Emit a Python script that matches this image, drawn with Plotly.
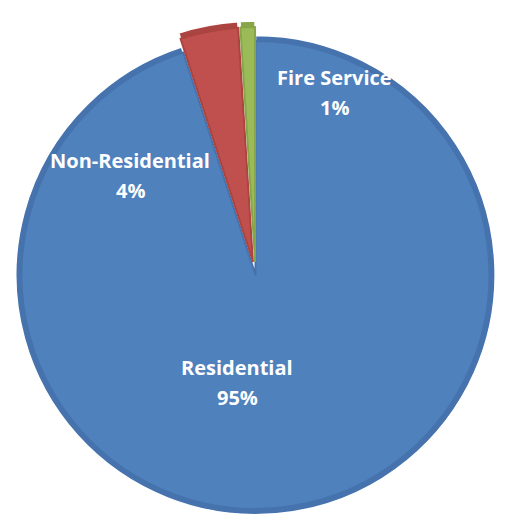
import plotly.graph_objects as go

# Water use share by customer class
categories = ["Residential", "Non-Residential", "Fire Service"]
shares = [95, 4, 1]

base_colors = ["#4F81BD", "#C0504D", "#9BBB59"]
rim_colors = ["#4673AD", "#AB4441", "#88A649"]
pulls = [0, 0.06, 0.06]

W, H = 511, 529
cy = 275  # pie centre, px from top
dom_y = [0, 2 * (H - cy) / H]  # keeps the centre at cy

fig = go.Figure()

# darker rim underneath
fig.add_trace(go.Pie(
    labels=categories, values=shares, sort=False, direction="clockwise",
    rotation=0, pull=pulls, textinfo="none", hoverinfo="skip",
    marker=dict(colors=rim_colors, line=dict(color="white", width=1.5)),
    domain=dict(x=[0, 1], y=dom_y), showlegend=False,
))

# main face, slightly inset so the rim shows around it
inset = 6
fig.add_trace(go.Pie(
    labels=categories, values=shares, sort=False, direction="clockwise",
    rotation=0, pull=pulls, textinfo="none", hoverinfo="skip",
    marker=dict(colors=base_colors, line=dict(color=rim_colors, width=2)),
    domain=dict(x=[inset / W, 1 - inset / W],
                y=[dom_y[0] + inset / H, dom_y[1] - inset / H]),
    showlegend=False,
))

# label positions (px) for name line; percent sits one line below
label_pos = {"Residential": (237, 367), "Non-Residential": (130, 160),
             "Fire Service": (334, 78)}
line_gap = 30

annotations = []
for name, val in zip(categories, shares):
    px, py = label_pos[name]
    for text, yy in ((name, py), (f"{val}%", py + line_gap)):
        annotations.append(dict(
            text=f"<b>{text}</b>", x=px / W, y=1 - yy / H,
            xref="paper", yref="paper", showarrow=False,
            xanchor="center", yanchor="middle",
            font=dict(family="Open Sans", size=20, color="white"),
        ))

fig.update_layout(
    width=W, height=H, margin=dict(l=0, r=0, t=0, b=0),
    paper_bgcolor="white", plot_bgcolor="white",
    annotations=annotations,
)

fig.write_html("out.html")
